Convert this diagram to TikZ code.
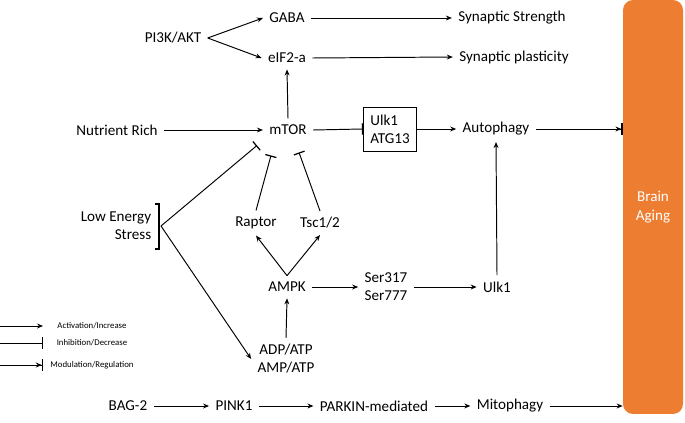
\documentclass[tikz,border=0pt]{standalone}
\usepackage{fontspec}
\setmainfont{Carlito}
\usepackage{xcolor}
\usepackage{tikz}
\usetikzlibrary{arrows.meta, positioning}
\definecolor{agingorange}{HTML}{ED7D31}

\begin{document}
\begin{tikzpicture}[x=0.02cm, y=-0.02cm, font=\fontsize{8.6}{10.3}\selectfont,
        lbl/.style={inner sep=3.5pt, align=center},
        act/.style={-{Stealth[length=3.4pt, width=2.8pt]}, line width=0.55pt},
        inh/.style={-{Bar[width=6.5pt, line width=0.7pt]}, line width=0.55pt},
        modu/.style={-{Stealth[length=3.4pt, width=2.8pt] Bar[width=6.5pt, line width=0.7pt]}, line width=0.55pt},
        legtxt/.style={font=\fontsize{5}{6}\selectfont}]
        \useasboundingbox (0,0) rectangle (685,422);

        \node (pik) [lbl] at (173,38) {PI3K/AKT};
        \node (gaba) [lbl] at (287,18) {GABA};
        \node (eif) [lbl] at (287,58) {eIF2-a};
        \node (synstr) [lbl] at (512,18) {Synaptic Strength};
        \node (synpl) [lbl] at (514,57) {Synaptic plasticity};

        \node (nutr) [lbl] at (117,130) {Nutrient Rich};
        \node (mtor) [lbl] at (288,130) {mTOR};
        \node (ulkbox) [draw, line width=0.5pt, align=left, minimum width=1.06cm, minimum height=0.88cm] at (390,129) {Ulk1\\ATG13};
        \node (auto) [lbl] at (496,129) {Autophagy};
        \node (brain) [fill=agingorange, rounded corners=0.2cm, minimum width=1.2cm, minimum height=8.28cm, text=white, align=center, font=\fontsize{8.6}{11}\selectfont] at (653,207) {Brain\\Aging};

        \node (stress) [lbl, align=right] at (116,226) {Low Energy\\Stress};
        \coordinate (stressjoin) at (161,226);
        \draw[line width=0.6pt] (155,204) -- (159,204) -- (159,249) -- (155,249);

        \node (raptor) [lbl] at (256,223) {Raptor};
        \node (tsc) [lbl] at (320,223) {Tsc1/2};
        \node (ampk) [lbl] at (287,287) {AMPK};
        \node (ser) [lbl] at (386,287) {Ser317\\Ser777};
        \node (ulk) [lbl] at (497,287) {Ulk1};
        \node (adp) [lbl] at (286,359) {ADP/ATP\\AMP/ATP};

        \node (bag) [lbl] at (128,406) {BAG-2};
        \node (pink) [lbl] at (234,406) {PINK1};
        \node (parkin) [lbl] at (374,406) {PARKIN-mediated};
        \node (mito) [lbl] at (510,406) {Mitophagy};

        \draw[act] (pik.east) -- (gaba.west);
        \draw[act] (pik.east) -- (eif.west);
        \draw[act] (gaba.east) -- (synstr.west);
        \draw[act] (eif.east) -- (synpl.west);
        \draw[act] (mtor.north) -- (eif.south);
        \draw[act] (nutr.east) -- (mtor.west);
        \draw[inh] (mtor.east) -- (ulkbox.west);
        \draw[act] (ulkbox.east) -- (auto.west);
        \draw[modu] (auto.east) -- (brain.west |- auto.east);

        \draw[inh] (stressjoin) -- ([shift={(-31,4)}]mtor.south);
        \draw[act] (stressjoin) -- (adp.west);
        \draw[inh] (raptor.north) -- ([shift={(-17,14)}]mtor.south);
        \draw[inh] (tsc.north) -- ([shift={(11,11)}]mtor.south);
        \draw[act] (ampk.north) -- (raptor.south);
        \draw[act] (ampk.north) -- (tsc.south);
        \draw[act] (adp.north) -- (ampk.south);
        \draw[act] (ampk.east) -- (ser.west);
        \draw[act] (ser.east) -- (ulk.west);
        \draw[act] (ulk.north) -- (auto.south);

        \draw[act] (bag.east) -- (pink.west);
        \draw[act] (pink.east) -- (parkin.west);
        \draw[act] (parkin.east) -- (mito.west);
        \draw[act] (mito.east) -- (brain.west |- mito.east);

        \node (legact) [legtxt] at (92,326) {Activation/Increase};
        \node (leginh) [legtxt] at (92,343) {Inhibition/Decrease};
        \node (legmod) [legtxt] at (92,365) {Modulation/Regulation};
        \coordinate (legactL) at (0,326);
        \coordinate (legactR) at (43,326);
        \coordinate (leginhL) at (0,343);
        \coordinate (leginhR) at (43,343);
        \coordinate (legmodL) at (0,365);
        \coordinate (legmodR) at (43,365);
        \draw[act] (legactL) -- (legactR);
        \draw[inh] (leginhL) -- (leginhR);
        \draw[modu] (legmodL) -- (legmodR);
    \end{tikzpicture}
\end{document}
